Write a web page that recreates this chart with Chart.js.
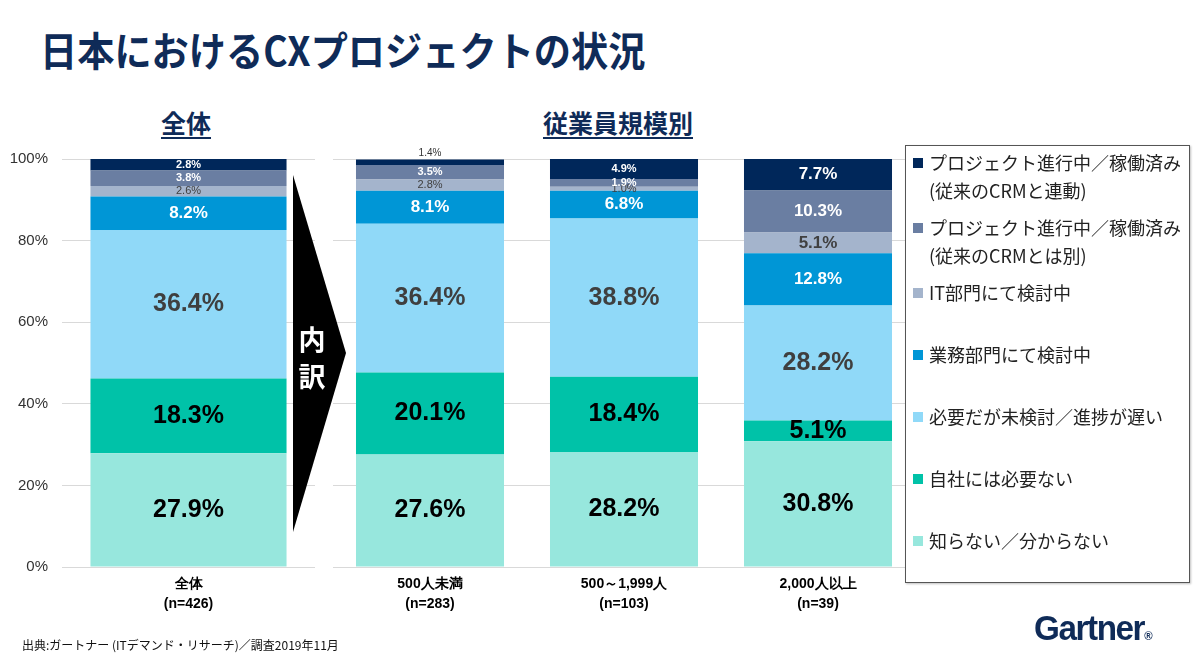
<!DOCTYPE html>
<html lang="ja">
<head>
<meta charset="utf-8">
<script src="https://cdn.jsdelivr.net/npm/chart.js@4.4.1/dist/chart.umd.min.js"></script>
<style>
html, body { margin: 0; padding: 0; background: #fff; }
body { width: 1200px; height: 657px; position: relative; overflow: hidden; font-family: "Noto Sans CJK JP", sans-serif; }
#title { position: absolute; left: 40px; top: 25px; font-size: 40px; font-weight: bold; color: #0f2b58; line-height: 1.2; transform: scaleX(0.93); transform-origin: left top; white-space: nowrap; }
.head { position: absolute; top: 104px; font-size: 25px; font-weight: bold; color: #0f2b58; text-decoration: underline; text-decoration-thickness: 2px; text-underline-offset: 4px; white-space: nowrap; transform: translateX(-50%); }
#leftChart { position: absolute; left: 0; top: 136px; }
#rightChart { position: absolute; left: 330px; top: 144px; }
#arrow { position: absolute; left: 0; top: 0; }
#legend { position: absolute; left: 905px; top: 145px; width: 285px; height: 438px; box-sizing: border-box; border: 1.5px solid #555; background: #fff; box-shadow: 1px 1px 2px rgba(0,0,0,0.25); padding: 2px 0 0 7px; }
.item { display: flex; align-items: flex-start; font-size: 18px; line-height: 28px; color: #222; margin-bottom: 34px; white-space: nowrap; }
.item.two { margin-bottom: 9px; }
.mark { width: 10px; height: 10px; margin: 10px 6px 0 0; flex: none; }
#source { position: absolute; left: 22px; top: 636px; font-size: 12px; color: #111; white-space: nowrap; }
#logo { position: absolute; left: 1034px; top: 608px; font-family: "Liberation Sans", Arial, sans-serif; font-size: 35px; font-weight: bold; color: #0f2b58; letter-spacing: -1.5px; transform: scaleX(0.95); transform-origin: left top; }
#logo span { font-size: 12px; letter-spacing: 0; }
</style>
</head>
<body>
<div id="title">日本におけるCXプロジェクトの状況</div>
<div class="head" style="left:186px">全体</div>
<div class="head" style="left:618px">従業員規模別</div>
<canvas id="leftChart" width="315" height="484"></canvas>
<canvas id="rightChart" width="585" height="476"></canvas>
<svg id="arrow" width="1200" height="657">
  <polygon points="293,175 346,353 293,532" fill="#000"/>
  <text x="312" y="350" fill="#fff" font-size="27" font-weight="bold" text-anchor="middle" font-family="Noto Sans CJK JP">内</text>
  <text x="312" y="387" fill="#fff" font-size="27" font-weight="bold" text-anchor="middle" font-family="Noto Sans CJK JP">訳</text>
</svg>
<div id="legend"></div>
<div id="source">出典:ガートナー (ITデマンド・リサーチ)／調査2019年11月</div>
<div id="logo">Gartner<span>®</span></div>

<script>
// カテゴリ
const groups = ["全体", "500人未満", "500～1,999人", "2,000人以上"];
const sampleSizes = ["(n=426)", "(n=283)", "(n=103)", "(n=39)"];
const yTicks = [0, 20, 40, 60, 80, 100];

// 系列 (積み上げ順: 下から)
const notKnow = [27.9, 27.6, 28.2, 30.8];
const notNeeded = [18.3, 20.1, 18.4, 5.1];
const notYet = [36.4, 36.4, 38.8, 28.2];
const bizDept = [8.2, 8.1, 6.8, 12.8];
const itDept = [2.6, 2.8, 1.0, 5.1];
const runSeparate = [3.8, 3.5, 1.9, 10.3];
const runLinked = [2.8, 1.4, 4.9, 7.7];

const seriesNames = [
  "知らない／分からない",
  "自社には必要ない",
  "必要だが未検討／進捗が遅い",
  "業務部門にて検討中",
  "IT部門にて検討中",
  "プロジェクト進行中／稼働済み\n(従来のCRMとは別)",
  "プロジェクト進行中／稼働済み\n(従来のCRMと連動)"
];
const seriesValues = [notKnow, notNeeded, notYet, bizDept, itDept, runSeparate, runLinked];
const seriesColors = ["#97e7dd", "#00c2a8", "#90d9f8", "#0096d6", "#a4b4cc", "#6a7ea2", "#00275a"];

// ラベルの見た目 (系列ごと)
const labelStyle = [
  { color: "#000", big: true },
  { color: "#000", big: true },
  { color: "#3f3f3f", big: true },
  { color: "#fff", smallWeight: "bold" },
  { color: "#404040", smallWeight: "normal" },
  { color: "#fff", smallWeight: "bold" },
  { color: "#fff", smallWeight: "bold" }
];

const numFont = '"Liberation Sans", Arial, sans-serif';

const segmentLabels = {
  id: "segmentLabels",
  afterDatasetsDraw(chart) {
    const ctx = chart.ctx;
    ctx.save();
    ctx.textAlign = "center";
    ctx.textBaseline = "middle";
    const last = chart.data.datasets.length - 1;
    chart.data.datasets.forEach((ds, di) => {
      const meta = chart.getDatasetMeta(di);
      const st = labelStyle[di];
      meta.data.forEach((el, i) => {
        const v = ds.data[i];
        const h = Math.abs(el.base - el.y);
        let y = (el.y + el.base) / 2;
        let color = st.color;
        let font;
        if (st.big) font = "bold 25px " + numFont;
        else if (v >= 5) font = "bold 17px " + numFont;
        else font = st.smallWeight + " 11px " + numFont;
        if (di === last && h < 8) {
          y = el.y - 6;
          color = "#333";
          font = "normal 10px " + numFont;
        }
        ctx.font = font;
        ctx.fillStyle = color;
        ctx.fillText(v.toFixed(1) + "%", el.x, y);
      });
    });
    ctx.restore();
  }
};

function makeDatasets(from, to) {
  return seriesValues.map((vals, k) => ({
    label: seriesNames[k],
    data: vals.slice(from, to),
    backgroundColor: seriesColors[k],
    borderWidth: 0
  }));
}

function makeLabels(from, to) {
  return groups.slice(from, to).map((g, i) => [g, sampleSizes[from + i]]);
}

function makeOptions(showY, catPct) {
  return {
    responsive: false,
    animation: false,
    datasets: { bar: { barPercentage: 1, categoryPercentage: catPct } },
    layout: { padding: { top: 15, left: showY ? 0 : 3, right: 0, bottom: 0 } },
    plugins: { legend: { display: false }, tooltip: { enabled: false } },
    scales: {
      x: {
        stacked: true,
        grid: { display: false, drawTicks: false },
        border: { display: false },
        ticks: {
          color: "#000",
          padding: 7,
          font: { family: numFont, size: 14, weight: "bold", lineHeight: 1.45 }
        },
        afterFit: s => { s.height = 53; }
      },
      y: {
        stacked: true,
        min: 0,
        max: 100,
        afterBuildTicks: s => { s.ticks = yTicks.map(v => ({ value: v })); },
        grid: { color: "#d9d9d9", lineWidth: 1, drawTicks: false },
        border: { display: false },
        ticks: {
          display: showY,
          color: "#333",
          padding: 14,
          font: { family: numFont, size: 15 },
          callback: v => v + "%"
        },
        afterFit: s => { s.width = showY ? 62 : 0; }
      }
    }
  };
}

const leftChart = new Chart(document.getElementById("leftChart"), {
  type: "bar",
  data: { labels: makeLabels(0, 1), datasets: makeDatasets(0, 1) },
  options: makeOptions(true, 0.775),
  plugins: [segmentLabels]
});

const rightChart = new Chart(document.getElementById("rightChart"), {
  type: "bar",
  data: { labels: makeLabels(1, 4), datasets: makeDatasets(1, 4) },
  options: makeOptions(false, 0.763),
  plugins: [segmentLabels]
});

// 凡例 (上から積み上げの逆順)
const legendBox = document.getElementById("legend");
rightChart.data.datasets.slice().reverse().forEach(ds => {
  const item = document.createElement("div");
  const lines = ds.label.split("\n");
  item.className = lines.length > 1 ? "item two" : "item";
  const mark = document.createElement("div");
  mark.className = "mark";
  mark.style.background = ds.backgroundColor;
  const txt = document.createElement("div");
  txt.innerHTML = lines.join("<br>");
  item.appendChild(mark);
  item.appendChild(txt);
  legendBox.appendChild(item);
});
</script>
</body>
</html>
